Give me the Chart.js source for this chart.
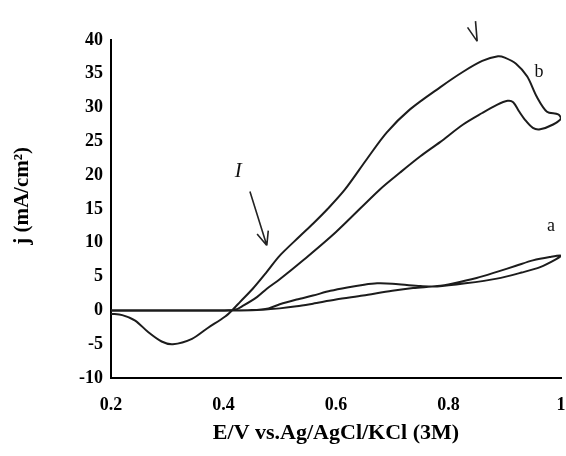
<!DOCTYPE html>
<html>
<head>
<meta charset="utf-8">
<script src="https://cdn.jsdelivr.net/npm/chart.js@4.4.0/dist/chart.umd.min.js"></script>
<style>
  html, body { margin: 0; padding: 0; background: #fff; }
</style>
</head>
<body>
<canvas id="cvChart" width="566" height="456"></canvas>
<script>
/*** data */
const xTickValues = [0.2, 0.4, 0.6, 0.8, 1];
const yTickValues = [-10, -5, 0, 5, 10, 15, 20, 25, 30, 35, 40];

// curve a (blank), one closed loop
const curveA_E = [0.2, 0.3, 0.4, 0.45, 0.48, 0.5, 0.53, 0.559, 0.59, 0.62, 0.65, 0.673, 0.7, 0.726, 0.75, 0.78,
                  0.83, 0.886, 0.93, 0.963, 0.99, 1.0,
                  0.98, 0.95, 0.92, 0.886, 0.85, 0.808, 0.78,
                  0.737, 0.7, 0.648, 0.6, 0.559, 0.53, 0.5, 0.47, 0.43, 0.3, 0.2];
const curveA_j = [0, 0, 0, 0.05, 0.3, 0.9, 1.6, 2.2, 2.9, 3.4, 3.8, 4.0, 3.95, 3.75, 3.6, 3.55,
                  4.0, 4.7, 5.6, 6.4, 7.5, 8.1,
                  7.9, 7.4, 6.6, 5.7, 4.8, 4.0, 3.6,
                  3.3, 2.9, 2.2, 1.6, 1.0, 0.6, 0.3, 0.1, 0, 0, 0];

// curve b, forward then reverse scan
const curveB_E = [0.2, 0.3, 0.38, 0.42, 0.435, 0.46, 0.477, 0.5, 0.54, 0.6, 0.678, 0.714, 0.75, 0.785, 0.826, 0.86, 0.886, 0.905,
                  0.915, 0.925, 0.936, 0.95, 0.963, 0.986, 1.0,
                  0.995, 0.975, 0.957, 0.94, 0.92, 0.9, 0.888, 0.86, 0.826, 0.785, 0.731, 0.69, 0.655, 0.616, 0.585, 0.56,
                  0.536, 0.5, 0.477, 0.452, 0.43, 0.415, 0.403, 0.372, 0.344, 0.31, 0.29, 0.266, 0.243, 0.22, 0.2];
const curveB_j = [0, 0, 0, 0.1, 0.7, 2.0, 3.2, 4.6, 7.3, 11.6, 17.9, 20.4, 22.8, 24.9, 27.5, 29.2, 30.4, 31.0,
                  30.8, 29.5, 28.2, 27.0, 26.8, 27.5, 28.4,
                  29.0, 29.4, 31.6, 34.6, 36.5, 37.4, 37.6, 36.9, 35.3, 33.0, 29.7, 26.3, 22.4, 17.9, 15.0, 12.9,
                  11.0, 8.1, 5.7, 3.2, 1.3, 0, -0.9, -2.6, -4.2, -5.0, -4.6, -3.2, -1.5, -0.7, -0.5];

const serif = "'Liberation Serif', 'Times New Roman', serif";
const toPoints = (xs, ys) => xs.map((v, i) => ({x: v, y: ys[i]}));

function arrow(ctx, x1, y1, x2, y2, wings, len) {
    ctx.beginPath();
    ctx.moveTo(x1, y1);
    ctx.lineTo(x2, y2);
    const a = Math.atan2(y2 - y1, x2 - x1);
    wings.forEach(w => {
        ctx.moveTo(x2, y2);
        ctx.lineTo(x2 - len * Math.cos(a + w), y2 - len * Math.sin(a + w));
    });
    ctx.stroke();
}

/*** labels a, b, I and the arrows */
const notes = {
    id: 'notes',
    afterDatasetsDraw(chart) {
        const {ctx, scales: {x, y}} = chart;
        const px = v => x.getPixelForValue(v);
        const py = v => y.getPixelForValue(v);
        ctx.save();
        ctx.strokeStyle = '#222';
        ctx.fillStyle = '#111';
        ctx.lineWidth = 1.6;
        arrow(ctx, px(0.447), py(17.6), px(0.477), py(9.6), [0.4, -0.4], 15);
        arrow(ctx, px(0.848), py(42.8), px(0.851), py(39.8), [-0.52], 17);
        ctx.textAlign = 'center';
        ctx.textBaseline = 'middle';
        ctx.font = 'italic 21px ' + serif;
        ctx.fillText('I', px(0.426), py(20.6));
        ctx.font = '18px ' + serif;
        ctx.fillText('b', px(0.961), py(35.3));
        ctx.fillText('a', px(0.982), py(12.4));
        ctx.restore();
    }
};

const lineStyle = {
    showLine: true,
    borderColor: '#1c1c1c',
    borderWidth: 2,
    pointRadius: 0,
    tension: 0.3,
    fill: false
};

const cv = new Chart(document.getElementById('cvChart').getContext('2d'), {
    type: 'scatter',
    data: {
        datasets: [
            Object.assign({label: 'a', data: toPoints(curveA_E, curveA_j)}, lineStyle),
            Object.assign({label: 'b', data: toPoints(curveB_E, curveB_j)}, lineStyle)
        ]
    },
    options: {
        responsive: false,
        animation: false,
        layout: {padding: {top: 40, right: 5, bottom: 0, left: 0}},
        plugins: {legend: {display: false}, tooltip: {enabled: false}},
        scales: {
            x: {
                type: 'linear',
                min: 0.2,
                max: 1,
                afterBuildTicks: s => { s.ticks = xTickValues.map(v => ({value: v})); },
                afterFit: s => { s.height = 78; s.paddingLeft = 0; s.paddingRight = 0; },
                grid: {display: false, drawTicks: false},
                border: {display: true, color: '#000', width: 2},
                ticks: {
                    color: '#000',
                    padding: 17,
                    maxRotation: 0,
                    font: {family: serif, size: 18, weight: 'bold'},
                    callback: v => String(v)
                },
                title: {
                    display: true,
                    text: 'E/V vs.Ag/AgCl/KCl (3M)',
                    color: '#000',
                    padding: {top: 0, bottom: 9},
                    font: {family: serif, size: 22, weight: 'bold'}
                }
            },
            y: {
                min: -10,
                max: 40,
                afterBuildTicks: s => { s.ticks = yTickValues.map(v => ({value: v})); },
                afterFit: s => { s.width = 111; },
                grid: {display: false, drawTicks: false},
                border: {display: true, color: '#000', width: 2},
                ticks: {
                    color: '#000',
                    padding: 8,
                    font: {family: serif, size: 18, weight: 'bold'},
                    callback: v => String(v)
                },
                title: {
                    display: true,
                    text: '     j (mA/cm²)',
                    color: '#000',
                    padding: {top: 10, bottom: 0},
                    font: {family: serif, size: 21, weight: 'bold'}
                }
            }
        }
    },
    plugins: [notes]
});
</script>
</body>
</html>
